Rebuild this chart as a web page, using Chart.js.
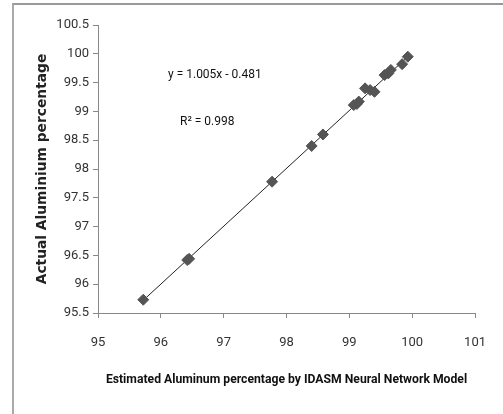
<!DOCTYPE html>
<html>
<head>
<meta charset="utf-8">
<script src="https://cdn.jsdelivr.net/npm/chart.js@4/dist/chart.umd.min.js"></script>
<style>
  html, body { margin: 0; padding: 0; background: #fff; overflow: hidden; }
  #wrap { position: relative; width: 503px; height: 414px; }
  #frame {
    position: absolute; left: 12px; top: 3px; width: 600px; height: 600px;
    border-top: 2px solid #999; border-left: 2px solid #aaa; box-sizing: border-box;
  }
  canvas { position: absolute; left: 0; top: 0; }
</style>
</head>
<body>
<div id="wrap">
  <div id="frame"></div>
  <canvas id="chart" width="503" height="414"></canvas>
</div>
<script>
// estimated (x) vs actual (y) aluminium percentage
const estimated = [95.72, 96.42, 96.45, 97.77, 98.40, 98.58, 99.07, 99.12, 99.15, 99.25, 99.33, 99.40, 99.56, 99.62, 99.66, 99.84, 99.93];
const actual    = [95.73, 96.42, 96.44, 97.78, 98.40, 98.60, 99.11, 99.13, 99.17, 99.40, 99.37, 99.34, 99.63, 99.66, 99.72, 99.82, 99.95];

// trendline end points
const trendX = [95.72, 99.96];
const trendY = [95.72, 99.98];

const xTicks = [95, 96, 97, 98, 99, 100, 101];
const yTicks = [95.5, 96, 96.5, 97, 97.5, 98, 98.5, 99, 99.5, 100, 100.5];

const equationText = 'y = 1.005x - 0.481';
const r2Text = 'R² = 0.998';

const narrow = "'Liberation Sans Narrow', 'Roboto', sans-serif";

const annotations = {
  id: 'annotations',
  afterDatasetsDraw(chart) {
    const ctx = chart.ctx;
    ctx.save();
    ctx.fillStyle = '#111';
    ctx.font = '12px ' + narrow;
    ctx.textBaseline = 'middle';
    ctx.textAlign = 'left';
    ctx.fillText(equationText, 168, 75);
    ctx.fillText(r2Text, 180, 122);
    ctx.restore();
  }
};

new Chart(document.getElementById('chart'), {
  type: 'scatter',
  data: {
    datasets: [
      {
        label: 'Trend',
        type: 'line',
        data: trendX.map((x, i) => ({ x: x, y: trendY[i] })),
        borderColor: '#222',
        borderWidth: 1,
        pointRadius: 0,
        fill: false,
        order: 2
      },
      {
        label: 'Data',
        data: estimated.map((x, i) => ({ x: x, y: actual[i] })),
        pointStyle: 'rectRot',
        pointRadius: 5.5,
        backgroundColor: '#555',
        borderColor: '#555',
        borderWidth: 1,
        order: 1
      }
    ]
  },
  options: {
    responsive: false,
    animation: false,
    layout: { padding: { left: 14, right: 16, top: 25, bottom: 0 } },
    plugins: {
      legend: { display: false },
      tooltip: { enabled: false }
    },
    scales: {
      x: {
        type: 'linear',
        min: 95,
        max: 101,
        afterBuildTicks: s => { s.ticks = xTicks.map(v => ({ value: v })); },
        afterFit: s => { s.height = 101; },
        grid: { drawOnChartArea: false, drawTicks: true, tickLength: 5, color: '#888' },
        border: { color: '#888', width: 1 },
        ticks: { color: '#333', padding: 17, font: { family: narrow, size: 13 }, callback: v => String(v) },
        title: {
          display: true,
          text: 'Estimated Aluminum percentage by IDASM Neural Network Model',
          color: '#111',
          font: { family: narrow, size: 12.2, weight: 'bold' },
          padding: { top: 0, bottom: 27 }
        }
      },
      y: {
        type: 'linear',
        min: 95.5,
        max: 100.5,
        afterBuildTicks: s => { s.ticks = yTicks.map(v => ({ value: v })); },
        afterFit: s => { s.width = 84; },
        grid: { drawOnChartArea: false, drawTicks: true, tickLength: 5, color: '#888' },
        border: { color: '#888', width: 1 },
        ticks: { color: '#333', padding: 4, font: { family: narrow, size: 13 }, callback: v => String(v) },
        title: {
          display: true,
          text: 'Actual Aluminium percentage',
          color: '#222',
          font: { family: "'DejaVu Sans', sans-serif", size: 13.8, weight: 'bold' },
          padding: { top: 20, bottom: 0 }
        }
      }
    }
  },
  plugins: [annotations]
});
</script>
</body>
</html>
